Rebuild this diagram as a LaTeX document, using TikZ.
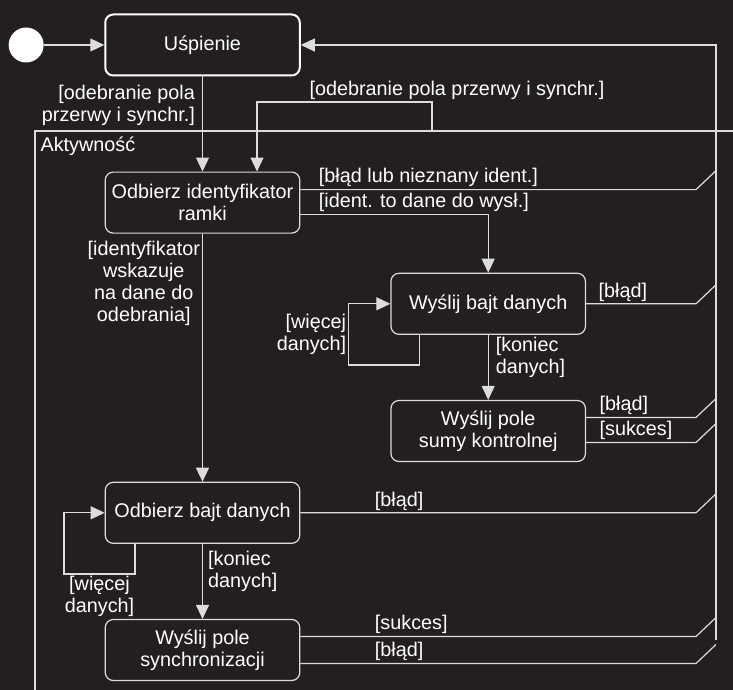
\documentclass[tikz,border=0pt]{standalone}
\usepackage{fontspec}
\setmainfont{Liberation Sans}
\usetikzlibrary{arrows.meta, positioning}
\definecolor{bg}{HTML}{231F20}
\definecolor{lin}{HTML}{DCDCDC}

\begin{document}
\begin{tikzpicture}[x=1pt,y=-1pt,->,>={Triangle[length=14pt,width=13pt]},
                    line width=1.2pt,color=lin,text=white,
                    main node/.style={rectangle,rounded corners=8pt,draw=lin,text=white,
                      minimum width=194.5pt,minimum height=61pt,align=center,inner sep=4pt,
                      font=\fontsize{19.8}{22}\selectfont},
                    lbl/.style={inner sep=2pt,text=white,font=\fontsize{19.8}{22}\selectfont},
                    start/.style={circle,fill=white,minimum size=35pt,inner sep=0pt}]

  \fill[bg] (0,0) rectangle (733,690);
  \useasboundingbox (0,0) rectangle (733,690);

  \node[main node, line width=2pt, draw=white] (1) at (202.5,45) {Uśpienie};
  \node[start] (0) [left=60pt of 1] {};
  \node[main node] (2) [below=95pt of 1] {Odbierz identyfikator\\ramki};
  \node[main node] (3) [below right=39pt and 90pt of 2] {Wyślij bajt danych};
  \node[main node] (4) [below=65pt of 3] {Wyślij pole\\sumy kontrolnej};
  \node[main node] (5) [below=248pt of 2] {Odbierz bajt danych};
  \node[main node] (6) [below=75pt of 5] {Wyślij pole\\synchronizacji};

  % frame
  \coordinate (f) at (35,131);
  \draw[-] (35,690) -- (f) -- (733,131);
  \node[lbl, anchor=base west] (a) at ([xshift=3pt,yshift=-20pt]f) {Aktywność};

  \path[every node/.style={lbl}]
    (0) edge (1)
    (1) edge node[left, align=right, pos=0.3, xshift=-5pt] {[odebranie pola\\przerwy i synchr.]} (2)
    (2) edge node[left, align=center, pos=0.2] {[identyfikator\\wskazuje\\na dane do\\odebrania]} (5)
    (3) edge node[right, align=left, pos=0.35, xshift=5pt] {[koniec\\danych]} (4)
    (5) edge node[right, align=left, pos=0.37, xshift=3pt] {[koniec\\danych]} (6);

  \coordinate (p) at (432,131);
  \draw (p) -- ++(0,29pt) node[lbl, above, xshift=25pt] (l2) {[odebranie pola przerwy i synchr.]}
        -| ([xshift=54.5pt]2.north);
  \draw ([yshift=-12pt]2.east) node[lbl, above right, xshift=16pt] (l3) {[ident. to dane do wysł.]}
        -| (3.north);

  % self loops
  \draw ([xshift=-68.5pt]3.south) -- ++(0,-30pt) -- ++(-71pt,0)
        |- node[lbl, left, align=right, pos=0.25] (l4) {[więcej\\danych]} (3.west);
  \draw ([xshift=-67.5pt]5.south) -- ++(0,-30pt)
        -- node[lbl, below, align=center] (l5) {[więcej\\danych]} ++(-71pt,0) |- (5.west);

  % back to sleep
  \coordinate (k) at (696,0);
  \coordinate (r) at (716,640);
  \draw (r) |- (1.east);
  \foreach \n/\dy/\dx/\txt [count=\i] in {2/13/16/{[błąd lub nieznany ident.]},
      3/0/10/{[błąd]}, 4/13.5/11/{[błąd]}, 4/-11.5/11/{[sukces]},
      5/0/72/{[błąd]}, 6/13.5/72/{[sukces]}, 6/-13.5/72/{[błąd]}}
    \draw[-] ([yshift=\dy pt]\n.east) coordinate (t)
          node[lbl, above right, xshift=\dx pt] (e\i) {\txt}
          -- (t -| k) -- ++(20pt,19pt);
\end{tikzpicture}
\end{document}
